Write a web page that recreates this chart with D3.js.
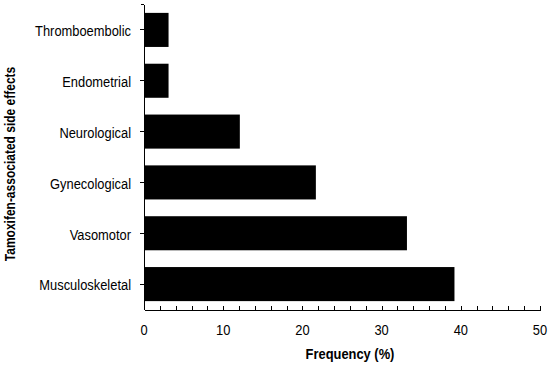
<!DOCTYPE html>
<meta charset="utf-8">
<style>

body {
  margin: 0;
  background: #fff;
}

text {
  font-family: "Liberation Sans", Arial, sans-serif;
  font-size: 15px;
  fill: #000;
}

.axis path,
.axis line {
  stroke: #000;
  stroke-width: 1px;
  shape-rendering: crispEdges;
}

</style>
<body>
<script src="https://cdnjs.cloudflare.com/ajax/libs/d3/7.8.5/d3.min.js"></script>
<script>

var effects = ["Thromboembolic", "Endometrial", "Neurological", "Gynecological", "Vasomotor", "Musculoskeletal"],
    frequency = [3.1, 3.1, 12.1, 21.7, 33.2, 39.2],
    xTicks = [0, 10, 20, 30, 40, 50];

var width = 550,
    height = 365,
    squeeze = 0.86; // the original uses a narrow face, so squash the glyphs

var svg = d3.select("body").append("svg")
    .attr("width", width)
    .attr("height", height);

var x = d3.scaleLinear()
    .domain([0, 50])
    .range([144, 540]);

var y = d3.scaleBand()
    .domain(effects)
    .range([4.5, 309.5])
    .paddingInner(0.33)
    .paddingOuter(0.165);

function narrow(tx, ty, rot, k) {
  return "translate(" + tx + "," + ty + ")" + (rot ? "rotate(" + rot + ")" : "") + "scale(" + (k || squeeze) + ",1)";
}

// bars
svg.append("g").selectAll("rect")
    .data(effects)
  .enter().append("rect")
    .attr("x", x(0))
    .attr("y", function(d) { return y(d); })
    .attr("width", function(d, i) { return x(frequency[i]) - x(0); })
    .attr("height", y.bandwidth())
    .attr("fill", "#000");

// x axis: minor ticks every 2, pointing up
svg.append("g")
    .attr("class", "axis")
    .attr("transform", "translate(0,309.5)")
    .call(d3.axisBottom(x)
      .tickValues(d3.range(0, 51, 2))
      .tickSizeInner(-4)
      .tickSizeOuter(0)
      .tickFormat(""));

svg.append("g").selectAll("text")
    .data(xTicks)
  .enter().append("text")
    .attr("transform", function(d) { return narrow(x(d), 335); })
    .attr("text-anchor", "middle")
    .text(function(d) { return d; });

// y axis
var yAxis = svg.append("g")
    .attr("class", "axis")
    .attr("transform", "translate(" + (x(0) - 0.5) + ",0)")
    .call(d3.axisLeft(y)
      .tickSizeInner(4)
      .tickSizeOuter(0)
      .tickFormat(""));

// small tick at the top end of the y axis
yAxis.append("line")
    .attr("x1", -3)
    .attr("x2", 0)
    .attr("y1", 4.5)
    .attr("y2", 4.5);

svg.append("g").selectAll("text")
    .data(effects)
  .enter().append("text")
    .attr("transform", function(d) { return narrow(131, y(d) + y.bandwidth() / 2 + 1); })
    .attr("dy", "0.35em")
    .attr("text-anchor", "end")
    .text(function(d) { return d; });

svg.append("text")
    .attr("transform", narrow(350, 359))
    .attr("text-anchor", "middle")
    .style("font-weight", "bold")
    .text("Frequency (%)");

svg.append("text")
    .attr("transform", narrow(15, 164, -90, 0.8))
    .attr("text-anchor", "middle")
    .style("font-weight", "bold")
    .text("Tamoxifen-associated side effects");

</script>
